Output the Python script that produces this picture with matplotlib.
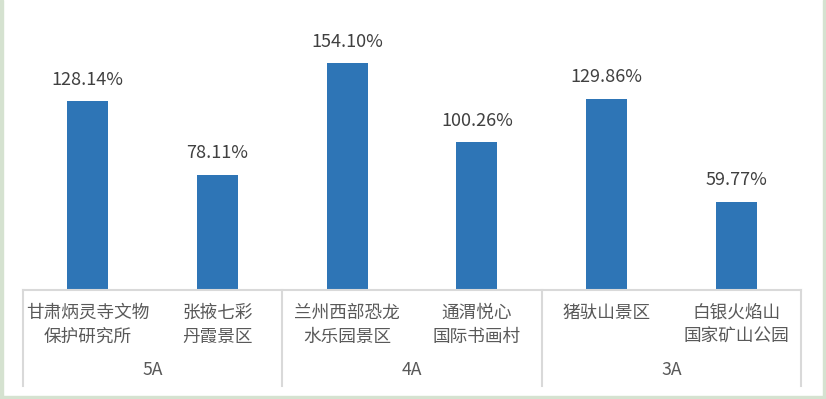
import numpy as np
import matplotlib.pyplot as plt
from matplotlib.patches import Rectangle

plt.rcParams['font.family'] = ['Noto Sans CJK SC', 'DejaVu Sans']

#------------------------------------------------------------------------------
#   Data
#------------------------------------------------------------------------------
sites = ['甘肃炳灵寺文物\n保护研究所', '张掖七彩\n丹霞景区',
         '兰州西部恐龙\n水乐园景区', '通渭悦心\n国际书画村',
         '猪驮山景区', '白银火焰山\n国家矿山公园']
values = [128.14, 78.11, 154.10, 100.26, 129.86, 59.77]
groups = ['5A', '4A', '3A']
group_size = [2, 2, 2]

bar_color = '#2E75B6'
grid_color = '#D9D9D9'
text_color = '#595959'

#------------------------------------------------------------------------------
#   Plot
#------------------------------------------------------------------------------
W, H = 826, 399
fig = plt.figure(figsize=(W / 100, H / 100), dpi=100)
ax = fig.add_axes([23 / W, 109 / H, 778 / W, 290 / H])

x = np.arange(len(values))
ax.bar(x, values, width=0.315, color=bar_color, zorder=2)
ax.set_xlim(-0.5, len(values) - 0.5)
ax.set_ylim(0, 290 / 1.473)

for xi, v in zip(x, values):
    ax.annotate('%.2f%%' % v, (xi, v), xytext=(0, 9), textcoords='offset points',
                ha='center', va='bottom', fontsize=13, color='#404040')

for s in ['top', 'right', 'left']:
    ax.spines[s].set_visible(False)
ax.spines['bottom'].set_color(grid_color)
ax.spines['bottom'].set_linewidth(1.5)
ax.set_xticks([])
ax.set_yticks([])

# category labels (one text per line)
tr = ax.get_xaxis_transform()
for xi, lab in zip(x, sites):
    for k, line in enumerate(lab.split('\n')):
        ax.text(xi, -(23 + 24 * k) / 290, line, transform=tr, ha='center',
                va='center', fontsize=12.7, color=text_color)

# group labels and separators
start = -0.5
ax.plot([start, start], [0, -96 / 290], transform=tr, color=grid_color,
        lw=1.5, clip_on=False)
for g, n in zip(groups, group_size):
    end = start + n
    ax.plot([end, end], [0, -96 / 290], transform=tr, color=grid_color,
            lw=1.5, clip_on=False)
    ax.text((start + end) / 2, -80 / 290, g, transform=tr, ha='center',
            va='center', fontsize=12.7, color=text_color)
    start = end

# outer frame
frame_color = '#D5E2D0'
fig.patches.append(Rectangle((0, 0), 3 / W, 1, transform=fig.transFigure,
                             color=frame_color, zorder=0))
fig.patches.append(Rectangle((1 - 3 / W, 0), 3 / W, 1, transform=fig.transFigure,
                             color=frame_color, zorder=0))
fig.patches.append(Rectangle((0, 0), 1, 3 / H, transform=fig.transFigure,
                             color=frame_color, zorder=0))

fig.savefig('out.png', dpi=100)
